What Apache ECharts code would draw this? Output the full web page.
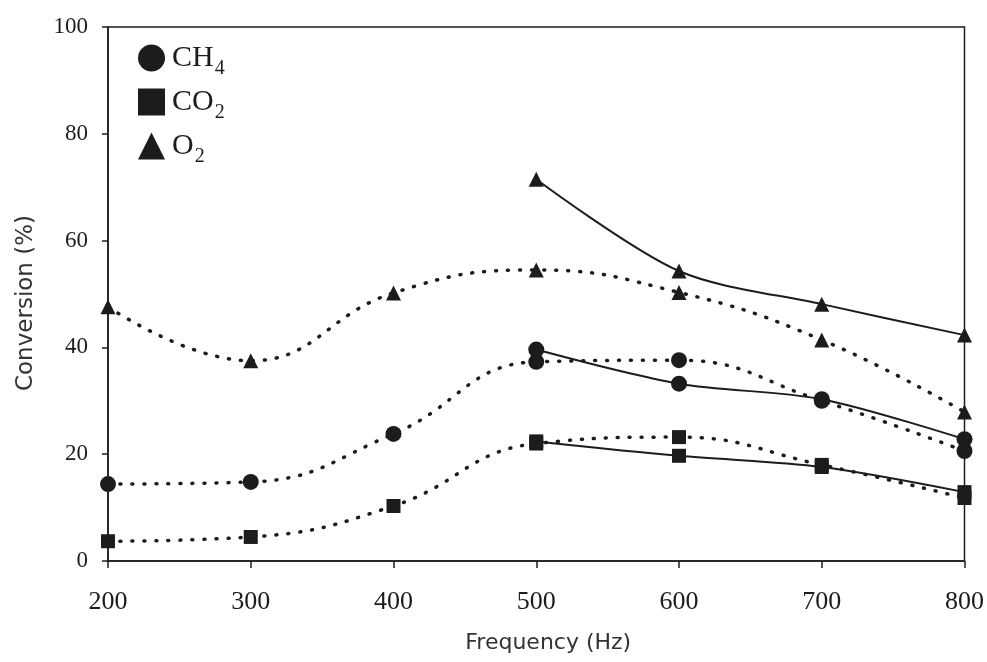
<!DOCTYPE html>
<html><head><meta charset="utf-8">
<script src="https://cdn.jsdelivr.net/npm/echarts@6/dist/echarts.min.js"></script>
<style>html,body{margin:0;padding:0;background:#fff}#c{width:987px;height:662px}</style>
</head><body><div id="c"></div>
<script>
const freqAll = [200, 300, 400, 500, 600, 700, 800];
const freqHigh = [500, 600, 700, 800];
const ch4Dotted = [14.4, 14.8, 23.8, 37.3, 37.6, 30.0, 20.6];
const co2Dotted = [3.7, 4.5, 10.3, 22.0, 23.2, 18.0, 11.8];
const o2Dotted = [47.6, 37.5, 50.2, 54.5, 50.3, 41.4, 27.9];
const ch4Solid = [39.6, 33.2, 30.3, 22.8];
const co2Solid = [22.4, 19.7, 17.6, 12.9];
const o2Solid = [71.5, 54.3, 48.1, 42.3];
const xTicks = [200, 300, 400, 500, 600, 700, 800];
const yTicks = [0, 20, 40, 60, 80, 100];

const ink = '#1c1c1c';
const serif = 'Liberation Serif';
function pairs(xs, ys){ return xs.map((x,i)=>[x, ys[i]]); }
function dotted(name, sym, size, xs, ys){
  return {name, type:'line', data:pairs(xs,ys), smooth:0.45, symbol:sym, symbolSize:size,
    itemStyle:{color:ink}, lineStyle:{color:ink, width:3.5, type:[1,11], cap:'round'}, z:3};
}
function solid(name, sym, size, xs, ys){
  return {name, type:'line', data:pairs(xs,ys), smooth:0.3, symbol:sym, symbolSize:size,
    itemStyle:{color:ink}, lineStyle:{color:ink, width:2}, z:4};
}
const chart = echarts.init(document.getElementById('c'));
chart.setOption({
  animation:false,
  backgroundColor:'#fff',
  grid:{left:108, right:21, top:27, bottom:101, show:true, borderColor:ink, borderWidth:1.5, backgroundColor:'transparent'},
  xAxis:{type:'value', min:200, max:800, interval:100,
    name:'Frequency (Hz)', nameLocation:'middle', nameGap:71,
    nameTextStyle:{fontFamily:'DejaVu Sans', fontSize:22, color:'#333', padding:[0,0,0,24]},
    axisLine:{lineStyle:{color:ink, width:1.5}},
    axisTick:{show:true, inside:false, length:7, lineStyle:{color:ink, width:1.5}},
    axisLabel:{fontFamily:serif, fontSize:26, color:ink, margin:28,
      formatter:v=>xTicks.includes(v)?String(v):''},
    splitLine:{show:false}},
  yAxis:{type:'value', min:0, max:100, interval:20,
    name:'Conversion (%)', nameLocation:'middle', nameGap:70,
    nameTextStyle:{fontFamily:'DejaVu Sans', fontSize:23, color:'#333', padding:[0,18,0,0]},
    axisLine:{show:true, lineStyle:{color:ink, width:1.5}},
    axisTick:{show:true, inside:false, length:6, lineStyle:{color:ink, width:1.5}},
    axisLabel:{fontFamily:serif, fontSize:23, color:ink, margin:20,
      formatter:v=>yTicks.includes(v)?String(v):''},
    splitLine:{show:false}},
  legend:{left:133, top:38, orient:'vertical', itemGap:8, itemWidth:27, itemHeight:27,
    data:[{name:'CH4', icon:'circle'},{name:'CO2', icon:'rect'},{name:'O2', icon:'triangle'}],
    formatter:n=>'{a|'+n.slice(0,-1)+'}{s|'+n.slice(-1)+'}',
    textStyle:{color:ink, padding:[0,0,0,2], rich:{
      a:{fontFamily:serif, fontSize:30, color:ink, lineHeight:30, verticalAlign:'top'},
      s:{fontFamily:serif, fontSize:20, color:ink, lineHeight:20, verticalAlign:'top', padding:[16,0,0,1]}}},
    itemStyle:{color:ink}},
  series:[
    dotted('CH4','circle',16,freqAll,ch4Dotted),
    dotted('CO2','rect',14,freqAll,co2Dotted),
    dotted('O2','triangle',15,freqAll,o2Dotted),
    solid('CH4','circle',16,freqHigh,ch4Solid),
    solid('CO2','rect',14,freqHigh,co2Solid),
    solid('O2','triangle',15,freqHigh,o2Solid)
  ]
});
</script></body></html>
